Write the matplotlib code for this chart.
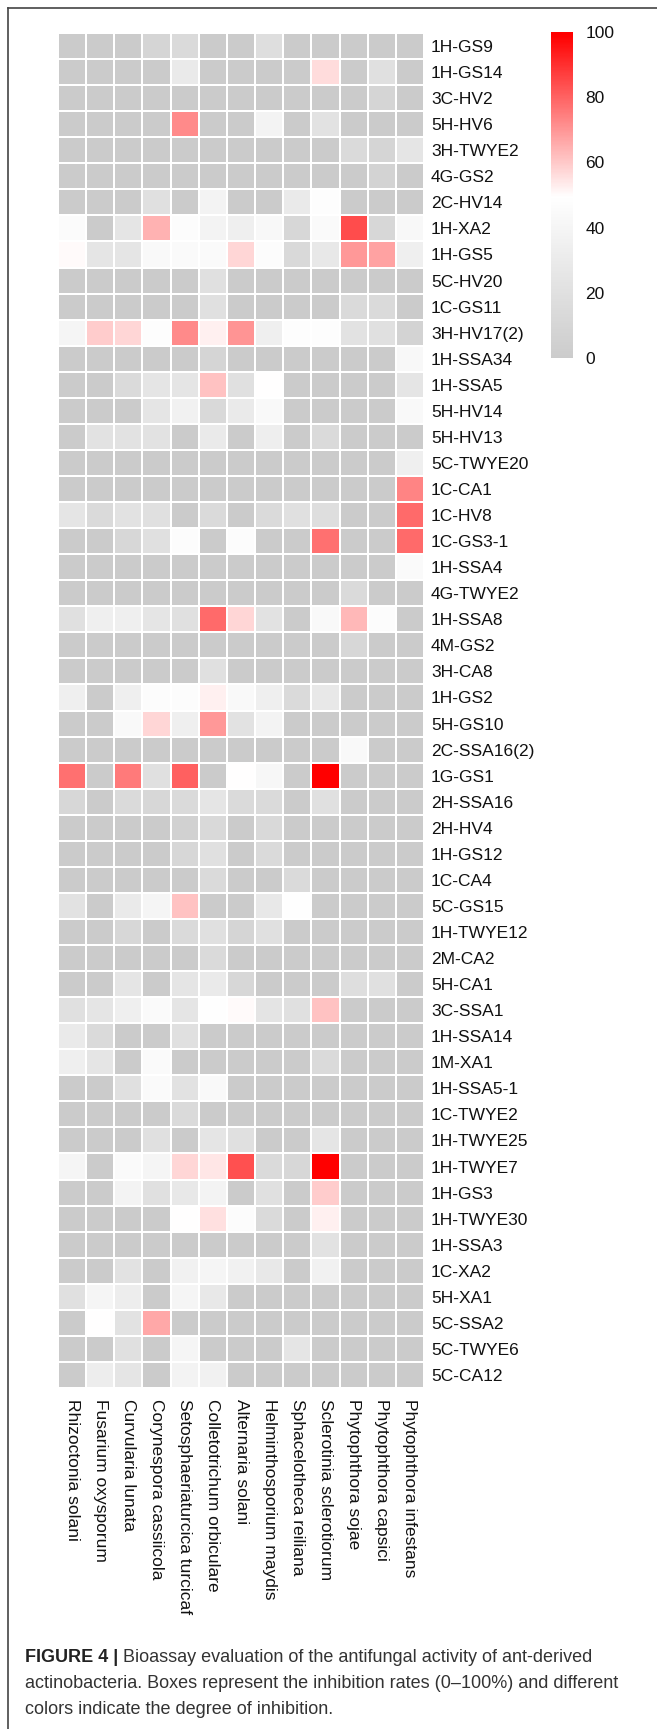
import numpy as np
import matplotlib
matplotlib.use('Agg')
import matplotlib.pyplot as plt
from matplotlib.colors import LinearSegmentedColormap
from matplotlib.lines import Line2D

plt.rcParams['font.family'] = ['Liberation Sans', 'DejaVu Sans']

strains = ['1H-GS9', '1H-GS14', '3C-HV2', '5H-HV6', '3H-TWYE2', '4G-GS2', '2C-HV14',
           '1H-XA2', '1H-GS5', '5C-HV20', '1C-GS11', '3H-HV17(2)', '1H-SSA34', '1H-SSA5',
           '5H-HV14', '5H-HV13', '5C-TWYE20', '1C-CA1', '1C-HV8', '1C-GS3-1', '1H-SSA4',
           '4G-TWYE2', '1H-SSA8', '4M-GS2', '3H-CA8', '1H-GS2', '5H-GS10', '2C-SSA16(2)',
           '1G-GS1', '2H-SSA16', '2H-HV4', '1H-GS12', '1C-CA4', '5C-GS15', '1H-TWYE12',
           '2M-CA2', '5H-CA1', '3C-SSA1', '1H-SSA14', '1M-XA1', '1H-SSA5-1', '1C-TWYE2',
           '1H-TWYE25', '1H-TWYE7', '1H-GS3', '1H-TWYE30', '1H-SSA3', '1C-XA2', '5H-XA1',
           '5C-SSA2', '5C-TWYE6', '5C-CA12']

pathogens = ['Rhizoctonia solani', 'Fusarium oxysporum', 'Curvularia lunata',
             'Corynespora cassiicola', 'Setosphaeriaturcica turcicaf',
             'Colletotrichum orbiculare', 'Alternaria solani', 'Helminthosporium maydis',
             'Sphacelotheca reiliana', 'Sclerotinia sclerotiorum', 'Phytophthora sojae',
             'Phytophthora capsici', 'Phytophthora infestans']

# inhibition rate (%) per strain (rows) and pathogen (columns)
inhibition = [
    [0, 0, 0, 10, 15, 0, 0, 18, 0, 0, 0, 0, 0],
    [0, 0, 0, 0, 30, 0, 0, 0, 0, 57, 0, 20, 0],
    [0, 0, 0, 0, 0, 0, 0, 0, 0, 0, 0, 10, 0],
    [0, 0, 0, 0, 73, 0, 0, 38, 0, 22, 0, 0, 0],
    [0, 0, 0, 0, 0, 0, 0, 0, 0, 0, 15, 10, 25],
    [0, 0, 0, 0, 0, 0, 0, 0, 0, 0, 0, 8, 0],
    [0, 0, 0, 20, 0, 38, 0, 0, 30, 48, 0, 0, 0],
    [46, 0, 25, 65, 47, 38, 35, 43, 12, 45, 85, 12, 43],
    [51, 25, 25, 44, 45, 45, 58, 47, 14, 28, 70, 68, 35],
    [0, 0, 0, 0, 0, 20, 0, 0, 0, 0, 0, 0, 0],
    [0, 0, 0, 0, 0, 20, 0, 0, 0, 0, 15, 15, 0],
    [40, 60, 58, 48, 73, 53, 71, 35, 48, 48, 22, 20, 8],
    [0, 0, 0, 0, 0, 10, 0, 0, 0, 0, 0, 0, 43],
    [0, 0, 15, 25, 25, 62, 20, 50, 0, 0, 0, 0, 25],
    [0, 0, 0, 25, 37, 14, 30, 44, 0, 0, 0, 0, 44],
    [0, 22, 22, 22, 0, 30, 0, 34, 0, 15, 0, 0, 0],
    [0, 0, 0, 0, 0, 0, 0, 0, 0, 0, 0, 0, 35],
    [0, 0, 0, 0, 0, 0, 0, 0, 0, 0, 0, 0, 74],
    [25, 15, 22, 20, 0, 15, 0, 15, 20, 18, 0, 0, 79],
    [0, 0, 12, 20, 47, 0, 47, 0, 0, 78, 0, 0, 79],
    [0, 0, 0, 0, 0, 0, 0, 0, 0, 0, 0, 0, 45],
    [0, 0, 0, 0, 0, 0, 0, 0, 0, 0, 15, 0, 0],
    [20, 35, 35, 25, 20, 79, 58, 22, 0, 44, 64, 47, 0],
    [0, 0, 0, 0, 0, 0, 0, 0, 0, 0, 12, 0, 0],
    [0, 0, 0, 0, 0, 20, 0, 0, 0, 0, 0, 0, 0],
    [35, 0, 35, 47, 47, 53, 44, 35, 15, 28, 0, 0, 0],
    [0, 0, 44, 58, 35, 70, 22, 38, 0, 0, 0, 0, 0],
    [0, 0, 0, 0, 0, 0, 0, 0, 0, 0, 44, 0, 0],
    [78, 0, 76, 20, 81, 0, 50, 42, 0, 100, 0, 0, 0],
    [12, 0, 15, 12, 15, 25, 15, 15, 0, 20, 0, 0, 0],
    [0, 0, 0, 0, 6, 14, 0, 14, 0, 0, 0, 0, 0],
    [0, 0, 0, 0, 12, 20, 0, 15, 0, 0, 0, 0, 0],
    [0, 0, 0, 0, 0, 15, 0, 0, 15, 0, 0, 0, 0],
    [22, 0, 30, 40, 62, 0, 0, 28, 49, 0, 0, 0, 0],
    [0, 0, 12, 0, 15, 20, 10, 20, 0, 0, 0, 0, 0],
    [0, 0, 0, 0, 0, 15, 0, 0, 0, 0, 0, 0, 0],
    [0, 0, 25, 0, 25, 30, 12, 0, 0, 0, 18, 20, 0],
    [20, 25, 35, 45, 25, 49, 51, 24, 20, 62, 0, 0, 0],
    [30, 15, 0, 0, 20, 0, 0, 0, 0, 0, 0, 0, 0],
    [35, 25, 0, 45, 0, 0, 0, 0, 0, 15, 0, 0, 0],
    [0, 0, 20, 45, 22, 44, 0, 0, 0, 0, 0, 0, 0],
    [0, 0, 0, 0, 15, 0, 0, 0, 0, 0, 0, 0, 0],
    [0, 0, 0, 20, 0, 25, 20, 0, 0, 25, 0, 0, 0],
    [40, 0, 45, 40, 58, 55, 84, 15, 12, 100, 0, 0, 0],
    [0, 0, 38, 20, 28, 38, 0, 20, 0, 60, 0, 0, 0],
    [0, 0, 0, 0, 50, 56, 47, 15, 0, 53, 0, 0, 0],
    [0, 0, 0, 0, 0, 0, 0, 0, 0, 22, 0, 0, 0],
    [0, 0, 22, 0, 37, 40, 37, 28, 0, 37, 0, 0, 0],
    [20, 40, 33, 0, 40, 28, 0, 0, 0, 0, 0, 0, 0],
    [0, 50, 22, 67, 0, 0, 0, 0, 0, 0, 0, 0, 0],
    [0, 0, 20, 0, 40, 0, 0, 0, 25, 0, 0, 0, 0],
    [0, 33, 25, 0, 38, 36, 0, 0, 0, 0, 0, 0, 0],
]

cbar_ticks = [0, 20, 40, 60, 80, 100]

caption_bold = 'FIGURE 4 |'
caption_lines = [' Bioassay evaluation of the antifungal activity of ant-derived',
                 'actinobacteria. Boxes represent the inhibition rates (0\u2013100%) and different',
                 'colors indicate the degree of inhibition.']

W, H = 657, 1729
fig = plt.figure(figsize=(W / 100, H / 100), dpi=100)
cmap = LinearSegmentedColormap.from_list('gwr', ['#CBCBCB', '#FFFFFF', '#FF0000'])

data = np.array(inhibition, dtype=float)

ax = fig.add_axes([58 / W, 1 - 1388 / H, 366 / W, 1355 / H])
mesh = ax.pcolormesh(data, cmap=cmap, vmin=0, vmax=100, edgecolors='white', linewidth=1.3)
ax.set_xlim(0, data.shape[1])
ax.set_ylim(data.shape[0], 0)
for s in ax.spines.values():
    s.set_visible(False)
ax.yaxis.tick_right()
ax.set_yticks(np.arange(len(strains)) + 0.5)
ax.set_yticklabels(strains, fontsize=12.5, color='#111111')
ax.set_xticks(np.arange(len(pathogens)) + 0.5)
ax.set_xticklabels(pathogens, fontsize=12.5, rotation=-90, va='top', ha='center', color='#111111')
ax.tick_params(length=0, pad=5)
ax.tick_params(axis='x', pad=8)

cax = fig.add_axes([551 / W, 1 - 358 / H, 22 / W, 326 / H])
cb = fig.colorbar(mesh, cax=cax, ticks=cbar_ticks)
cb.outline.set_visible(False)
cb.solids.set_edgecolor('face')
cax.tick_params(length=0, pad=9, labelsize=12.5, labelcolor='#111111')

# journal frame (top and left edges)
fig.add_artist(Line2D([8 / W, 1], [1 - 8 / H, 1 - 8 / H], color='#444444', lw=1.2))
fig.add_artist(Line2D([8 / W, 8 / W], [0, 1 - 8 / H], color='#444444', lw=1.2))

cap_font = ['Liberation Sans Narrow', 'Liberation Sans', 'DejaVu Sans']
baselines = [1662, 1688, 1714]
renderer = fig.canvas.get_renderer()
t = fig.text(25 / W, 1 - baselines[0] / H, caption_bold, fontsize=13, weight='bold',
             family=cap_font, va='baseline', color='#222222')
bb = t.get_window_extent(renderer)
fig.text(bb.x1 / W, 1 - baselines[0] / H, caption_lines[0], fontsize=13,
         family=cap_font, va='baseline', color='#333333')
for line, yb in zip(caption_lines[1:], baselines[1:]):
    fig.text(25 / W, 1 - yb / H, line, fontsize=13, family=cap_font,
             va='baseline', color='#333333')

fig.savefig('out.png', dpi=100)
